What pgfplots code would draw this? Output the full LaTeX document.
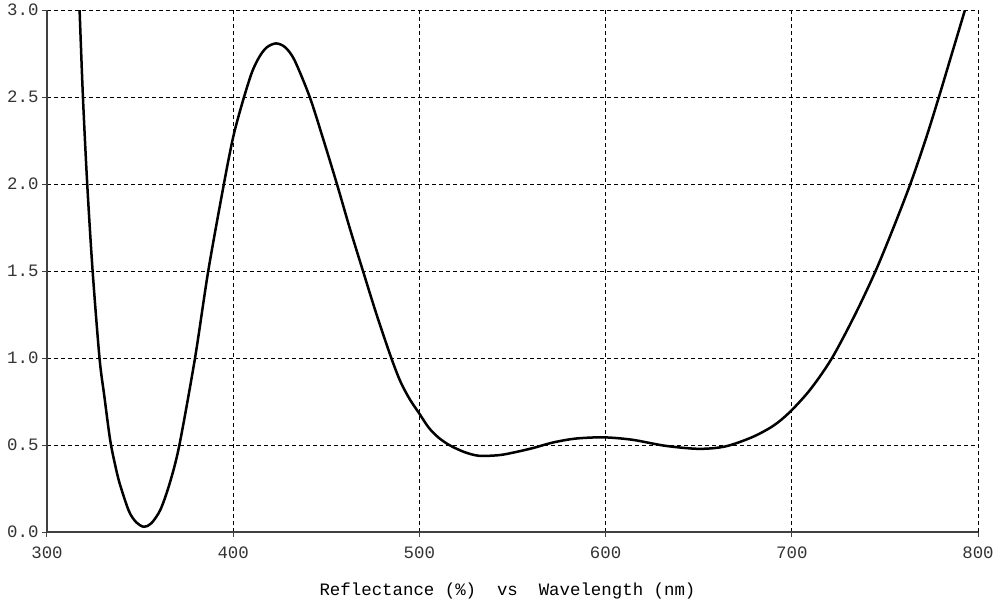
\documentclass[border=0pt]{standalone}
\usepackage{fontspec}
\setmainfont{Liberation Mono}
\usepackage{pgfplots}
\pgfplotsset{compat=1.18}

\begin{document}
\begin{tikzpicture}
\begin{axis}[
    scale only axis,
    width=931pt, height=522pt,
    at={(47pt,74pt)}, anchor=south west,
    xmin=300, xmax=800,
    ymin=0, ymax=3,
    xtick={300,400,...,800},
    ytick={0,0.5,...,3.0},
    axis x line=bottom, axis y line=left,
    axis line style={-, line width=1.5pt, black!75},
    tick align=outside,
    major tick length=5pt,
    tick style={black!75, line width=1pt},
    grid=major,
    grid style={dash pattern=on 4pt off 3pt, line width=1pt, black},
    /pgf/number format/assume math mode=true,
    ticklabel style={font=\fontsize{17.4}{17.4}\selectfont, text=black!80},
    yticklabel style={/pgf/number format/.cd, fixed, fixed zerofill, precision=1},
    xticklabel style={yshift=-6pt, /pgf/number format/.cd, 1000 sep={}},
    xlabel={Reflectance (\%)\ \ vs\ \ Wavelength (nm)},
    xlabel style={font=\fontsize{17.4}{17.4}\selectfont, at={(axis description cs:0.5,0)}, anchor=center, yshift=-59pt, xshift=-5pt},
    clip=true,
]
\addplot[black, line width=2.5pt, smooth, tension=0.5] coordinates {
(316.8,3.2) (317.5,3.0) (319.3,2.5) (321.6,2.0) (324.5,1.5) (328.2,1.0)
(330.8,0.78) (333.9,0.53) (336.5,0.39) (339,0.28) (344,0.12) (348,0.055)
(352.1,0.03) (356,0.05) (361,0.13) (366.1,0.287) (371.1,0.5) (379.5,1.0)
(386.6,1.5) (395,2.0) (400,2.27) (405,2.47) (410,2.64) (414,2.73)
(418,2.785) (423,2.808) (428,2.785) (433,2.71) (441.1,2.5) (448,2.27)
(455.7,2.0) (462.5,1.75) (469.7,1.5) (477,1.25) (484.9,1.0) (490,0.86)
(495,0.76) (500,0.68) (505,0.60) (510,0.545) (516,0.50) (524,0.46)
(532,0.438) (543,0.442) (552,0.46) (560.8,0.482) (572,0.515) (584,0.537)
(599,0.544) (614.4,0.53) (632.3,0.495) (650.2,0.478) (664.4,0.492)
(678.7,0.545) (690,0.61) (699,0.69) (710,0.82) (721.6,1.0) (734,1.25)
(745,1.50) (755,1.76) (764,2.01) (772,2.26) (779,2.50) (786,2.75)
(793,3.0) (800,3.25)
};
\end{axis}
\pgfresetboundingbox
\path[use as bounding box] (0,0) rectangle (1005pt,606pt);
\end{tikzpicture}
\end{document}
